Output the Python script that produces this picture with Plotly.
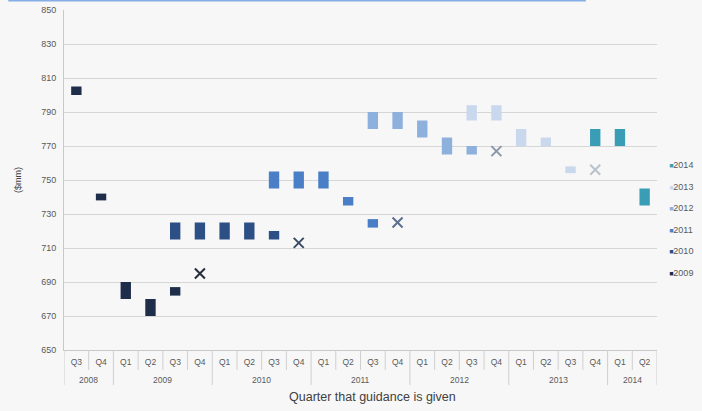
import plotly.graph_objects as go

# Quarter in which guidance is given
years = ["2008", "2008",
         "2009", "2009", "2009", "2009",
         "2010", "2010", "2010", "2010",
         "2011", "2011", "2011", "2011",
         "2012", "2012", "2012", "2012",
         "2013", "2013", "2013", "2013",
         "2014", "2014"]
quarters = ["Q3", "Q4",
            "Q1", "Q2", "Q3", "Q4",
            "Q1", "Q2", "Q3", "Q4",
            "Q1", "Q2", "Q3", "Q4",
            "Q1", "Q2", "Q3", "Q4",
            "Q1", "Q2", "Q3", "Q4",
            "Q1", "Q2"]

N = None
# Guidance ranges ($mm) for each fiscal year, low and high ends
low_2009 = [800, 738, 680, 670, 682, N, N, N, N, N, N, N, N, N, N, N, N, N, N, N, N, N, N, N]
high_2009 = [805, 742, 690, 680, 687, N, N, N, N, N, N, N, N, N, N, N, N, N, N, N, N, N, N, N]
low_2010 = [N, N, N, N, 715, 715, 715, 715, 715, N, N, N, N, N, N, N, N, N, N, N, N, N, N, N]
high_2010 = [N, N, N, N, 725, 725, 725, 725, 720, N, N, N, N, N, N, N, N, N, N, N, N, N, N, N]
low_2011 = [N, N, N, N, N, N, N, N, 745, 745, 745, 735, 722, N, N, N, N, N, N, N, N, N, N, N]
high_2011 = [N, N, N, N, N, N, N, N, 755, 755, 755, 740, 727, N, N, N, N, N, N, N, N, N, N, N]
low_2012 = [N, N, N, N, N, N, N, N, N, N, N, N, 780, 780, 775, 765, 765, N, N, N, N, N, N, N]
high_2012 = [N, N, N, N, N, N, N, N, N, N, N, N, 790, 790, 785, 775, 770, N, N, N, N, N, N, N]
low_2013 = [N, N, N, N, N, N, N, N, N, N, N, N, N, N, N, N, 785, 785, 770, 770, 754, N, N, N]
high_2013 = [N, N, N, N, N, N, N, N, N, N, N, N, N, N, N, N, 794, 794, 780, 775, 758, N, N, N]
low_2014 = [N, N, N, N, N, N, N, N, N, N, N, N, N, N, N, N, N, N, N, N, N, 770, 770, 735]
high_2014 = [N, N, N, N, N, N, N, N, N, N, N, N, N, N, N, N, N, N, N, N, N, 780, 780, 745]

# Reported actuals ($mm) and the quarter they are shown in
actual_years = ["2009", "2010", "2011", "2012", "2013"]
actual_index = [5, 9, 13, 17, 21]
actual_values = [695, 713, 725, 767, 756]

series_names = ["2009", "2010", "2011", "2012", "2013", "2014"]
series_low = [low_2009, low_2010, low_2011, low_2012, low_2013, low_2014]
series_high = [high_2009, high_2010, high_2011, high_2012, high_2013, high_2014]
bar_colors = ["#1e2d4a", "#2c4f86", "#4a7ec6", "#8eb0dc", "#cad8ee", "#3a9db6"]
x_colors = ["#262d3a", "#3a4b66", "#5c6f8e", "#8a96aa", "#b9c1cd"]

# One slot per quarter on a numeric axis
pos = list(range(len(quarters)))

fig = go.Figure()

for name, lo, hi, col in zip(series_names, series_low, series_high, bar_colors):
    span = [None if (a is None or b is None) else b - a for a, b in zip(lo, hi)]
    fig.add_trace(go.Bar(
        x=pos, y=span, base=lo, name=name,
        marker=dict(color=col, line=dict(width=0)),
        width=0.42, showlegend=False,
    ))

for yr, idx, val, col in zip(actual_years, actual_index, actual_values, x_colors):
    fig.add_trace(go.Scatter(
        x=[pos[idx]], y=[val], mode="markers",
        marker=dict(symbol="x-thin-open", size=10, line=dict(width=2, color=col), color=col),
        showlegend=False, name=yr + " actual",
    ))

# Legend entries, newest year first, each with a small coloured square
for i, (name, col) in enumerate(reversed(list(zip(series_names, bar_colors)))):
    fig.add_trace(go.Scatter(
        x=[None], y=[None], mode="markers",
        marker=dict(color="rgba(0,0,0,0)", size=1),
        name='<span style="color:%s;font-size:7px">■</span>%s' % (col, name),
        legendgroup="g%d" % i, showlegend=True,
    ))

# Quarter separators (short) and year dividers (long) under the axis
sep_color = "#cfcfcf"
row1 = -20 / 340
row2 = -35 / 340
for i in range(len(pos) + 1):
    b = i - 0.5
    is_year_edge = i == 0 or i == len(pos) or years[i] != years[i - 1]
    fig.add_shape(type="line", xref="x", yref="paper",
                  x0=b, x1=b, y0=0, y1=row2 if is_year_edge else row1,
                  line=dict(color=sep_color, width=1))

# Year labels centred under their quarters
year_order = []
for y in years:
    if y not in year_order:
        year_order.append(y)
for y in year_order:
    idxs = [p for p, yy in zip(pos, years) if yy == y]
    fig.add_annotation(x=sum(idxs) / len(idxs), xref="x", y=0, yref="paper",
                       yanchor="middle", yshift=-30, text=y, showarrow=False,
                       font=dict(size=8.5, color="#595959"))

# Horizontal axis caption
fig.add_annotation(x=0.521, xref="paper", y=0, yref="paper",
                   yanchor="middle", yshift=-47, text="Quarter that guidance is given",
                   showarrow=False, font=dict(size=12.5, color="#404040"))

fig.update_layout(
    width=702, height=411,
    margin=dict(l=64, r=45, t=10, b=61, autoexpand=False),
    paper_bgcolor="#f7f7f7", plot_bgcolor="#f7f7f7",
    barmode="overlay",
    font=dict(family="Liberation Sans, Arial, sans-serif", color="#595959", size=9),
    legend=dict(
        x=0.953, y=0.587, xanchor="left", yanchor="top",
        bgcolor="rgba(0,0,0,0)", font=dict(size=9, color="#595959"),
        tracegroupgap=2.5, itemwidth=30,
    ),
    showlegend=True,
)

fig.update_xaxes(
    range=[-0.5, len(pos) - 0.5],
    tickmode="array", tickvals=pos, ticktext=quarters,
    showgrid=False, zeroline=False, showline=True, linecolor="#c8c8c8", linewidth=1,
    ticks="", ticklabelstandoff=4,
    tickfont=dict(size=8.5, color="#595959"),
)
fig.update_yaxes(
    range=[650, 850], dtick=20, tick0=650,
    showgrid=True, gridcolor="#d6d6d6", gridwidth=1,
    showline=True, linecolor="#c8c8c8", linewidth=1,
    zeroline=False, ticks="", ticklen=0,
    tickfont=dict(size=9, color="#595959"),
    ticklabelstandoff=5,
    title=dict(text="($mm)", font=dict(size=9, color="#404040"), standoff=18),
)

# Thin blue rule along the top edge
fig.add_shape(type="line", xref="paper", yref="paper",
              x0=-0.094, x1=0.88, y0=1.028, y1=1.028,
              line=dict(color="#86aee6", width=2))

fig.write_html("out.html")
